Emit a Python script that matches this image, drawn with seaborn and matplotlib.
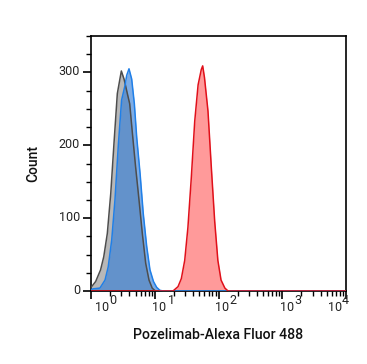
import numpy as np
import pandas as pd
import matplotlib
matplotlib.use("Agg")
import matplotlib.pyplot as plt
import matplotlib.ticker as mticker
from matplotlib.transforms import ScaledTranslation
import seaborn as sns

# ---- data (x as log10 of intensity, y as count) ----
gray_log = [0.0, 0.01, 0.073, 0.15, 0.20, 0.256, 0.31, 0.36, 0.413, 0.476, 0.518,
            0.57, 0.607, 0.65, 0.70, 0.753, 0.805, 0.858, 0.91, 0.96, 1.01, 4.0]
gray_cnt = [5, 6, 13, 29, 47, 79, 134, 202, 271, 302, 291,
            271, 257, 216, 170, 125, 79, 38, 15, 4, 0, 0]

blue_log = [0.0, 0.037, 0.14, 0.22, 0.27, 0.325, 0.376, 0.43, 0.48, 0.533, 0.56,
            0.596, 0.638, 0.68, 0.717, 0.77, 0.82, 0.874, 0.925, 0.98, 1.03, 1.08, 1.13, 4.0]
blue_cnt = [2, 3, 4, 15, 33, 70, 125, 202, 262, 282, 296,
            305, 291, 257, 211, 161, 106, 61, 29, 13, 5, 1, 0, 0]

red_log = [0.0, 1.286, 1.365, 1.417, 1.47, 1.52, 1.573, 1.627, 1.68, 1.73, 1.752,
           1.78, 1.835, 1.888, 1.94, 1.99, 2.04, 2.10, 2.15, 4.0]
red_cnt = [0, 0, 6, 17, 42, 87, 155, 233, 283, 304, 309,
           293, 247, 169, 96, 42, 15, 4, 0, 0]

x_decades = [0, 1, 2, 3, 4]
y_major = [0, 100, 200, 300]
x_label = "Pozelimab-Alexa Fluor 488"
y_label = "Count"

series = [
    ("Isotype", gray_log, gray_cnt, "#a0a0a0", 0.75, "#4d4d4d"),
    ("Pozelimab", blue_log, blue_cnt, "#2f7bd8", 0.62, "#1f7fe8"),
    ("Positive", red_log, red_cnt, "#ff2020", 0.45, "#e0101a"),
]

sns.set_theme(style="ticks")
plt.rcParams["font.family"] = ["Roboto", "DejaVu Sans"]

fig = plt.figure(figsize=(3.67, 3.64), dpi=100)
ax = fig.add_axes([91 / 367, 1 - 291 / 364, 255 / 367, 255 / 364])

for name, lg, cnt, fc, a, ec in series:
    df = pd.DataFrame({"x": 10 ** np.array(lg, dtype=float), "y": cnt})
    ax.fill_between(df["x"], 0, df["y"], color=fc, alpha=a, linewidth=0, zorder=2)
    sns.lineplot(data=df, x="x", y="y", ax=ax, color=ec, linewidth=1.1,
                 sort=False, estimator=None, zorder=3)

ax.set_xscale("log")
ax.set_xlim(1, 1e4)
ax.set_ylim(0, 350)

ax.set_yticks(y_major)
ax.yaxis.set_minor_locator(mticker.MultipleLocator(25))
ax.set_xticks([10.0 ** k for k in x_decades])
ax.xaxis.set_minor_locator(mticker.LogLocator(base=10, subs=np.arange(2, 10)))
ax.xaxis.set_minor_formatter(mticker.NullFormatter())
ax.set_xticklabels(["10"] * len(x_decades))

for sp in ax.spines.values():
    sp.set_linewidth(1.2)
    sp.set_color("black")

ax.tick_params(axis="both", which="major", length=6, width=1.2, color="black",
               labelsize=9, labelcolor="#222222", pad=2)
ax.tick_params(axis="both", which="minor", length=3.5, width=1.0, color="black")
ax.tick_params(axis="x", which="major", pad=1)

# per-label shifts (pixels) to mimic reference label placement
base_dx = [11.5, 4.6, 4.0, 4.4, -11.3]
exp_dx = [22.3, 16.3, 14.0, 15.3, -1.0]
for lbl, dx in zip(ax.get_xticklabels(), base_dx):
    lbl.set_transform(lbl.get_transform() + ScaledTranslation(dx / 100, 0, fig.dpi_scale_trans))
for lbl in ax.get_yticklabels():
    lbl.set_transform(lbl.get_transform() + ScaledTranslation(0, 2 / 100, fig.dpi_scale_trans))

for k, dx in zip(x_decades, exp_dx):
    ax.annotate(str(k), xy=(10.0 ** k, 0), xycoords=("data", "axes fraction"),
                xytext=(dx * 0.72, -10 * 0.72), textcoords="offset points",
                ha="center", va="center", fontsize=9, color="#222222",
                annotation_clip=False)

ax.set_xlabel(x_label, fontsize=10.2, fontweight="medium", color="#111111", labelpad=10)
ax.set_ylabel(y_label, fontsize=10, fontweight="medium", color="#111111", labelpad=13)

fig.savefig("out.png", dpi=100)
